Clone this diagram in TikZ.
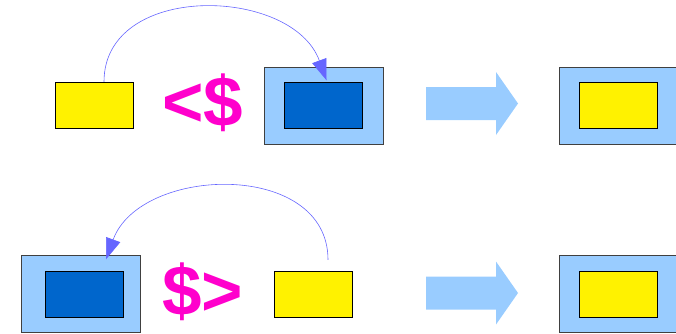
\documentclass[tikz,border=0pt]{standalone}
\usepackage{fontspec}
\setmainfont{Liberation Sans}
\usetikzlibrary{positioning}
\usetikzlibrary{arrows.meta}

\definecolor{lblue}{HTML}{99CCFF}
\definecolor{dblue}{HTML}{0066CC}
\definecolor{symcol}{HTML}{FF00CC}
\definecolor{arccol}{HTML}{6666FF}

\begin{document}
\begin{tikzpicture}[x=1pt,y=-1pt,
  ybox/.style={draw=black,fill=yellow,minimum width=78pt,minimum height=46pt,inner sep=0pt},
  dbox/.style={draw=black,fill=dblue,minimum width=78pt,minimum height=46pt,inner sep=0pt},
  obox/.style={draw=black!75,fill=lblue,minimum width=119pt,minimum height=77pt,inner sep=0pt},
  sym/.style={text=symcol,font=\fontsize{71}{71}\selectfont\bfseries,inner sep=0pt},
  move/.style={draw=arccol,line width=0.6pt,-{Triangle[length=21pt,width=15pt]}},
  barrow/.style={fill=lblue}]
 \useasboundingbox (0,0) rectangle (676,333);
 % top row: value <$ functor
 \node[ybox] (y1) at (94,105) {};
 \node[sym,anchor=base] (s1) at (202.5,126) {<\$};
 \node[obox] (o1) at (323.5,105.5) {};
 \node[dbox] (d1) at (o1.center) {};
 \draw[move] ([xshift=10pt]y1.north) to[out=90,in=110,looseness=1.15] ([xshift=3pt,yshift=2pt]d1.north);
 \node[obox] (r1) at (618.5,105.5) {};
 \node[ybox] (ry1) at (r1.center) {};
 % bottom row: functor $> value
 \node[obox] (o2) at (81,294) {};
 \node[dbox] (d2) at (84.5,294) {};
 \node[sym,anchor=base] (s2) at (202.5,315) {\$>};
 \node[ybox] (y2) at (313.5,294) {};
 \draw[move] ([xshift=14.5pt,yshift=11pt]y2.north) to[out=90,in=70,looseness=1.15] ([xshift=25pt,yshift=-4pt]o2.north);
 \node[obox] (r2) at (618.5,294) {};
 \node[ybox] (ry2) at (r2.center) {};
 % block arrows
 \foreach \y in {103.5,293}
  \fill[barrow] (426,\y-16.5) -- (496,\y-16.5) -- (496,\y-31.5) -- (518,\y) -- (496,\y+31.5) -- (496,\y+16.5) -- (426,\y+16.5) -- cycle;
\end{tikzpicture}
\end{document}
